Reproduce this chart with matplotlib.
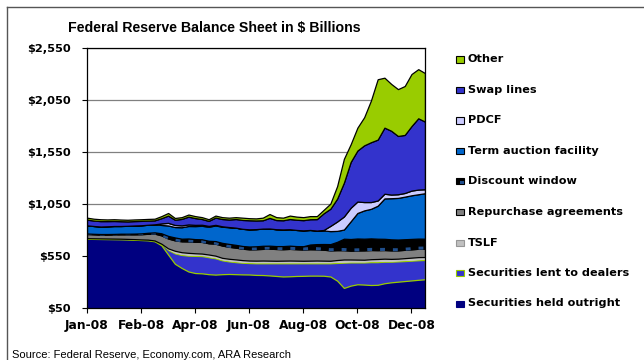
import numpy as np
import pandas as pd
import matplotlib
matplotlib.use("Agg")
import matplotlib.pyplot as plt
import matplotlib.dates as mdates
from matplotlib.patches import Rectangle
from matplotlib.lines import Line2D
from matplotlib.ticker import FuncFormatter, FixedLocator

# ---------------- data (weekly, $ billions) ----------------
weeks = pd.date_range("2008-01-02", periods=51, freq="7D")

outright = [712, 711, 710, 709, 708, 707, 705, 703, 700, 697, 688,
            650, 560, 472, 432, 398, 383, 380, 372, 368, 372,
            374, 372, 370, 369, 365, 364, 360, 355, 350, 352,
            355, 356, 358, 358, 357, 350, 310, 240, 262, 275,
            272, 268, 270, 285, 294, 300, 306, 312, 318, 323]
lent = [6, 6, 6, 6, 6, 6, 6, 6, 6, 7, 8,
        15, 45, 100, 125, 152, 165, 166, 163, 157, 133,
        121, 116, 112, 110, 112, 113, 117, 122, 127, 125,
        122, 121, 119, 119, 120, 127, 170, 243, 223, 210,
        213, 220, 218, 207, 198, 195, 192, 190, 188, 186]
tslf = [0, 0, 0, 0, 0, 0, 0, 0, 0, 0, 0, 0,
        15, 25, 26, 27, 25, 24, 26, 25, 24, 25,
        26, 25, 24, 25, 26, 25, 24, 25, 26, 25,
        24, 25, 26, 25, 24, 28, 30, 28, 27, 26,
        28, 30, 29, 27, 26, 28, 29, 30, 28]
repos = [40, 38, 36, 38, 40, 42, 44, 46, 50, 56,
         66, 80, 95, 100, 105, 110, 110, 112, 108, 115,
         118, 115, 113, 110, 108, 110, 112, 115, 113, 110,
         112, 110, 108, 110, 108, 105, 100, 95, 90, 85,
         88, 90, 88, 85, 83, 82, 80, 80, 80, 80, 80]
discount = [5, 5, 6, 5, 5, 6, 6, 7, 8, 10,
            12, 20, 25, 28, 25, 28, 26, 25, 24, 25,
            26, 28, 27, 26, 27, 28, 30, 29, 28, 30,
            31, 30, 32, 45, 50, 55, 60, 80, 110, 112,
            115, 112, 112, 110, 108, 106, 104, 102, 100, 98, 96]
taf = [78, 75, 72, 74, 76, 74, 76, 78, 78, 77, 77,
       80, 100, 100, 110, 120, 125, 130, 135,
       150, 155, 160, 165, 165, 165, 165, 165, 165, 162, 160, 158, 155, 152,
       140, 130, 130, 125, 105, 88, 170, 245, 272, 284, 317, 388, 395, 400,
       409, 419, 426, 437]
pdcf = [0, 0, 0, 0, 0, 0, 0, 0, 0, 0, 0,
        15, 25, 20, 18, 15, 12, 10, 8, 6, 4,
        2, 0, 0, 0, 0, 0, 0, 0, 0, 0, 0, 0, 0, 0,
        5, 50, 90, 125, 130, 110, 80, 65, 50, 45, 35, 35, 35, 45, 45, 38]
swap = [55, 52, 52, 50, 48, 46, 42, 42, 42, 40, 38,
        50, 70, 50, 62, 75, 65, 55, 48,
        70, 70, 72, 83, 85, 87, 83, 80, 102, 88, 88, 98, 98, 98,
        103, 110, 160, 165, 220, 325, 440, 490, 545, 575, 585, 635, 613, 560,
        558, 620, 685, 650]
other = [19, 18, 18, 16, 17, 16, 16, 16, 16, 16, 16,
         20, 25, 17, 17, 20, 19, 18, 16,
         19, 18, 18, 18, 22, 20, 20, 25, 37, 28, 25, 33, 30, 29,
         30, 29, 33, 49, 120, 229, 170, 220, 270, 400, 580, 480, 450, 450,
         470, 500, 472, 466]

series_names = ["Securities held outright", "Securities lent to dealers", "TSLF",
                "Repurchase agreements", "Discount window", "Term auction facility",
                "PDCF", "Swap lines", "Other"]
series_values = [outright, lent, tslf, repos, discount, taf, pdcf, swap, other]

tick_dates = pd.to_datetime(["2008-01-02", "2008-02-27", "2008-04-23", "2008-06-18",
                             "2008-08-13", "2008-10-08", "2008-12-03"])
y_ticks = [50, 550, 1050, 1550, 2050, 2550]

title = "Federal Reserve Balance Sheet in $ Billions"
source = "Source: Federal Reserve, Economy.com, ARA Research"

# ---------------- styles ----------------
fill_colors = ["#000080", "#3333cc", "#c0c0c0", "#808080", "#000000",
               "#0066cc", "#ccccff", "#3333cc", "#99cc00"]
edge_colors = ["#000080", "#99cc00", "none", "#000000", "#000000",
               "#000000", "#000000", "#000000", "#000000"]

plt.rcParams["font.family"] = ["DejaVu Sans"]
plt.rcParams["font.weight"] = "bold"

W, H = 644, 360
fig = plt.figure(figsize=(W / 100, H / 100), dpi=100)
fig.patch.set_facecolor("white")


def fx(px):
    return px / W


def fy(py):
    return 1 - py / H


ax = fig.add_axes([fx(87), fy(307.7), (425 - 87) / W, (307.7 - 47.5) / H])

x = weeks.to_pydatetime()
bottom = np.zeros(len(weeks))
for i, (vals, fc, ec) in enumerate(zip(series_values, fill_colors, edge_colors)):
    top = bottom + np.asarray(vals, dtype=float)
    ax.fill_between(x, bottom, top, facecolor=fc, edgecolor=ec,
                    linewidth=0.9, zorder=2 + i * 0.01)
    if series_names[i] == "Discount window":
        ax.plot(x, bottom + 6, color="#1f4e8c", lw=2.2, dashes=(1.6, 2.6),
                zorder=2 + i * 0.01 + 0.005, solid_capstyle="butt")
    bottom = top

ax.set_xlim(x[0], x[-1])
ax.set_ylim(y_ticks[0], y_ticks[-1])
ax.yaxis.set_major_locator(FixedLocator(y_ticks))
ax.yaxis.set_major_formatter(FuncFormatter(lambda v, p: f"${v:,.0f}"))
ax.xaxis.set_major_locator(FixedLocator(mdates.date2num(tick_dates.to_pydatetime())))
ax.xaxis.set_major_formatter(mdates.DateFormatter("%b-%y"))

ax.grid(axis="y", color="#808080", lw=0.9, zorder=0)
ax.set_axisbelow(True)
for s in ax.spines.values():
    s.set_color("black")
    s.set_linewidth(0.9)
    s.set_zorder(5)
ax.tick_params(axis="y", labelsize=8.2, length=3.6, width=0.8, pad=8, direction="out")
ax.tick_params(axis="x", labelsize=8.8, length=3.6, width=0.8, pad=4.3, direction="out")

# title and source
fig.text(fx(68), fy(32.3), title, family="Liberation Sans", weight="bold",
         fontsize=10.2, va="baseline", ha="left")
fig.text(fx(12), fy(358.5), source, family="Liberation Sans", weight="normal",
         fontsize=8, va="baseline", ha="left")

# frame lines of the chart object
fig.add_artist(Line2D([fx(6.7), fx(6.7)], [fy(6.7), 0], color="#555555", lw=1.0,
                      transform=fig.transFigure))
fig.add_artist(Line2D([fx(6.7), 1], [fy(6.7), fy(6.7)], color="#555555", lw=1.0,
                      transform=fig.transFigure))

# legend (top entry = top layer)
leg_y0, leg_step = 59.5, 30.5
for k, idx in enumerate(range(len(series_names) - 1, -1, -1)):
    yc = leg_y0 + k * leg_step
    ec = edge_colors[idx] if edge_colors[idx] != "none" else "#969696"
    fig.add_artist(Rectangle((fx(456), fy(yc + 3)), 8 / W, 6 / H,
                             transform=fig.transFigure, facecolor=fill_colors[idx],
                             edgecolor=ec, lw=0.8))
    if series_names[idx] == "Discount window":
        fig.add_artist(Rectangle((fx(460), fy(yc + 3)), 4 / W, 3 / H,
                                 transform=fig.transFigure, facecolor="#1f4e8c",
                                 edgecolor="none"))
    fig.text(fx(467.5), fy(yc), series_names[idx], fontsize=8.1, weight="bold",
             va="center", ha="left")

fig.savefig("out.png", dpi=100)
